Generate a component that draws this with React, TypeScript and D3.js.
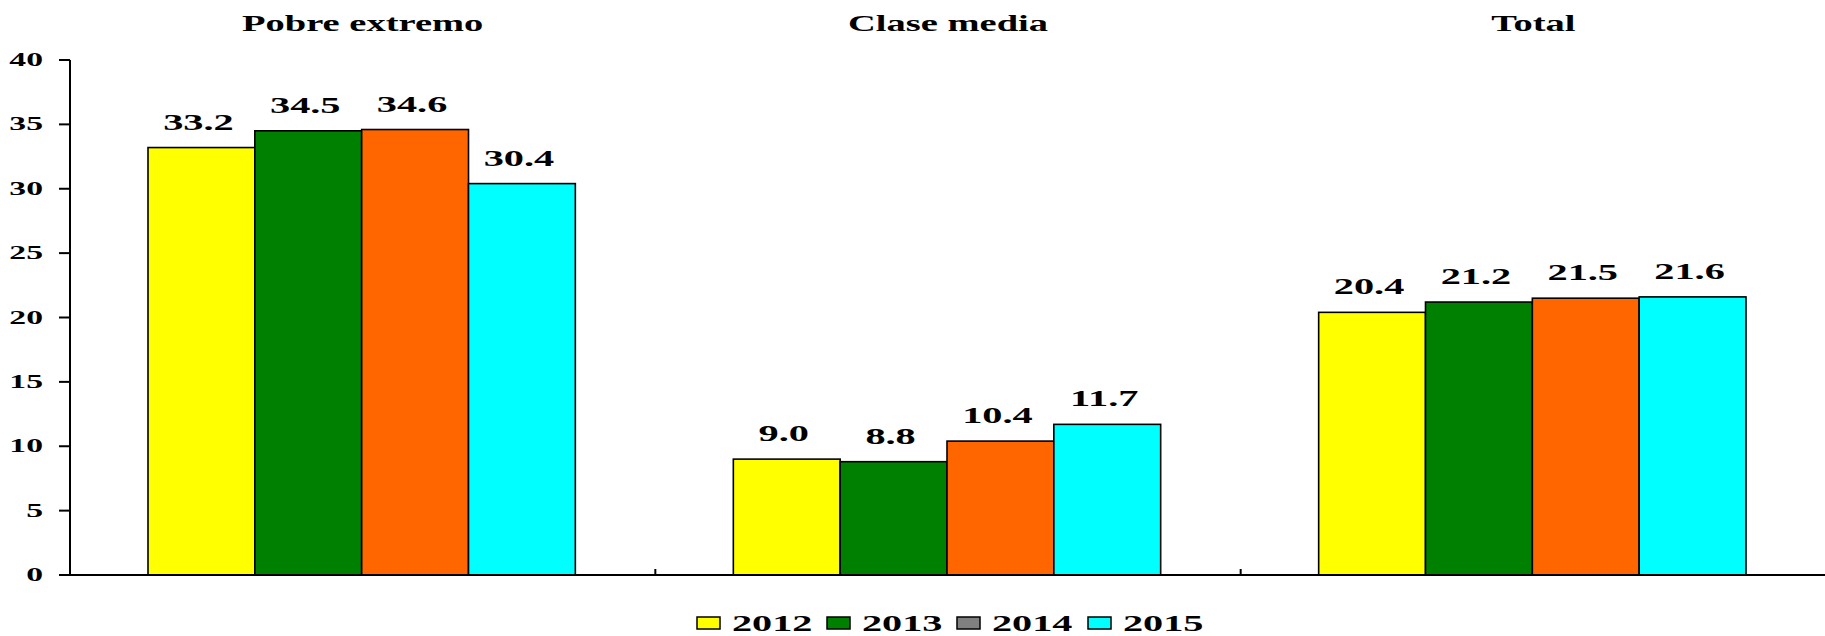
import React from "react";
import * as d3 from "d3";

const categories = ["Pobre extremo", "Clase media", "Total"];
const years = ["2012", "2013", "2014", "2015"];
const values2012 = [33.2, 9.0, 20.4];
const values2013 = [34.5, 8.8, 21.2];
const values2014 = [34.6, 10.4, 21.5];
const values2015 = [30.4, 11.7, 21.6];
const yTicks = [0, 5, 10, 15, 20, 25, 30, 35, 40];

const barColors = ["#FFFF00", "#008000", "#FF6600", "#00FFFF"];
const legendColors = ["#FFFF00", "#008000", "#808080", "#00FFFF"];

const W = 1825;
const H = 636;
const FONT = "'Liberation Serif', 'Times New Roman', Times, serif";

export default function App() {
  const series = [values2012, values2013, values2014, values2015];
  const x0 = d3.scaleBand<string>().domain(categories).range([70, 1826]).paddingInner(0).paddingOuter(0);
  const bw = x0.bandwidth();
  const x1 = d3.scaleBand<string>().domain(years).range([78, bw - 80]).paddingInner(0).paddingOuter(0);
  const y = d3.scaleLinear().domain([0, 40]).range([575, 60]);

  const legendX = [697, 827, 957, 1088];

  return (
    <svg width={W} height={H} style={{ position: "absolute", left: 0, top: 0 }} fontFamily={FONT} fontWeight="bold">
      <rect x={0} y={0} width={W} height={H} fill="#fff" />
      {/* titles */}
      {categories.map((c) => (
        <text key={c} transform={`translate(${x0(c)! + bw / 2},31) scale(1.64,1)`} textAnchor="middle" fontSize={23.5} fill="#000">
          {c}
        </text>
      ))}
      {/* bars */}
      {categories.map((c, ci) => (
        <g key={c}>
          {years.map((yr, si) => {
            const v = series[si][ci];
            const bx = x0(c)! + x1(yr)!;
            return (
              <g key={yr}>
                <rect x={bx} y={y(v)} width={x1.bandwidth()} height={y(0) - y(v)} fill={barColors[si]} stroke="#000" strokeWidth={1.6} />
                <text transform={`translate(${bx + x1.bandwidth() / 2 - 3},${y(v) - 18}) scale(1.68,1)`} textAnchor="middle" fontSize={24} fill="#000">
                  {v.toFixed(1)}
                </text>
              </g>
            );
          })}
        </g>
      ))}
      {/* y axis */}
      <line x1={70} x2={70} y1={y(40)} y2={y(0)} stroke="#000" strokeWidth={2} />
      {yTicks.map((t) => (
        <g key={t}>
          <line x1={59} x2={70} y1={y(t)} y2={y(t)} stroke="#000" strokeWidth={2} />
          <text transform={`translate(43,${y(t)}) scale(1.87,1)`} textAnchor="end" dominantBaseline="central" fontSize={18} fill="#000">
            {t}
          </text>
        </g>
      ))}
      {/* x axis */}
      <line x1={70} x2={1825} y1={y(0)} y2={y(0)} stroke="#000" strokeWidth={2} />
      {categories.slice(1).map((c) => (
        <line key={c} x1={x0(c)!} x2={x0(c)!} y1={y(0)} y2={y(0) - 6} stroke="#000" strokeWidth={2} />
      ))}
      {/* legend */}
      {years.map((yr, i) => (
        <g key={yr}>
          <rect x={legendX[i]} y={617} width={23} height={12} fill={legendColors[i]} stroke="#000" strokeWidth={1.5} />
          <text transform={`translate(${legendX[i] + 35},631) scale(1.75,1)`} textAnchor="start" fontSize={23} fill="#000">
            {yr}
          </text>
        </g>
      ))}
    </svg>
  );
}
